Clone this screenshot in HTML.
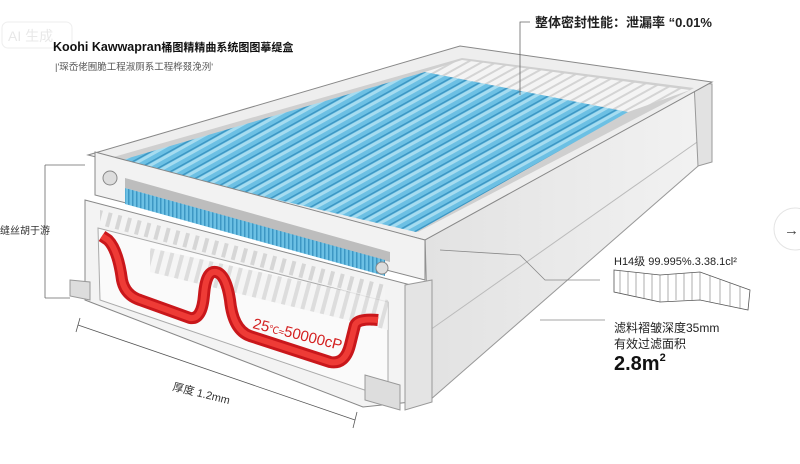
<!DOCTYPE html>
<html><head><meta charset="utf-8"><style>
body{margin:0;background:#fff;width:800px;height:459px;overflow:hidden;font-family:"Liberation Sans","Noto Sans CJK SC",sans-serif}
</style></head><body>
<svg width="800" height="459" viewBox="0 0 800 459" xmlns="http://www.w3.org/2000/svg">
<defs>
<pattern id="pl" width="9" height="9" patternUnits="userSpaceOnUse" patternTransform="rotate(-29)">
<rect width="9" height="9" fill="#6cc0e4"/><rect width="9" height="3" fill="#a6dcf0"/><rect y="7" width="9" height="1.5" fill="#3d97c4"/></pattern>
<pattern id="pl2" width="4" height="10" patternUnits="userSpaceOnUse">
<rect width="4" height="10" fill="#6cc0e4"/><rect width="1.5" height="10" fill="#3d97c4"/></pattern>
<pattern id="ms" width="7" height="7" patternUnits="userSpaceOnUse" patternTransform="rotate(-29)">
<rect width="7" height="7" fill="#f4f4f4"/><rect width="7" height="2" fill="#d4d4d4"/></pattern>
<pattern id="sl" width="10" height="10" patternUnits="userSpaceOnUse" patternTransform="rotate(15)">
<rect width="10" height="10" fill="#f4f4f4"/><rect width="4" height="10" fill="#d6d6d6"/></pattern>
<linearGradient id="rp" x1="0" y1="0" x2="1" y2="0"><stop offset="0" stop-color="#e2e2e2"/><stop offset="1" stop-color="#f2f2f2"/></linearGradient>
</defs>
<rect width="800" height="459" fill="#fff"/>
<!-- right side panel -->
<polygon points="425,237 705,83 705,160 430,400" fill="url(#rp)" stroke="#999" stroke-width="1"/>
<line x1="430" y1="330" x2="700" y2="140" stroke="#bbb"/>
<polygon points="694,82 712,84 712,162 698,166" fill="#e2e2e2" stroke="#999"/>
<!-- top frame -->
<polygon points="88,155 460,46 712,82 425,240" fill="#eeeeee" stroke="#888"/>
<polygon points="110,158 462,58 694,88 418,232" fill="#cfcfcf"/>
<polygon points="425,72 462,60 690,90 628,112" fill="url(#ms)"/>
<polygon points="115,162 425,72 628,112 416,232" fill="url(#pl)"/>
<!-- front top bar -->
<polygon points="95,152 425,240 425,280 95,195" fill="#f2f2f2" stroke="#888"/>
<polygon points="125,178 390,252 390,262 125,188" fill="#bdbdbd"/>
<polygon points="125,188 385,260 385,276 125,204" fill="url(#pl2)"/>
<circle cx="110" cy="178" r="7" fill="#ddd" stroke="#888"/>
<circle cx="382" cy="268" r="6" fill="#ddd" stroke="#888"/>
<!-- lower front housing -->
<polygon points="85,200 430,290 430,400 363,407 85,300" fill="#f3f3f3" stroke="#888"/>
<polygon points="100,210 385,285 385,300 100,225" fill="url(#sl)"/>
<polygon points="98,228 388,302 388,398 100,300" fill="#fafafa" stroke="#aaa"/>
<polygon points="150,248 388,300 388,330 150,272" fill="url(#sl)" opacity="0.8"/>
<polygon points="405,285 432,280 432,402 405,410" fill="#e4e4e4" stroke="#999"/>
<polygon points="70,280 90,282 90,300 70,296" fill="#ddd" stroke="#999"/>
<polygon points="365,375 400,385 400,410 365,400" fill="#ddd" stroke="#999"/>
<!-- red gasket -->
<path d="M102,236 L108,240 Q118,250 122,280 Q125,295 140,300 L190,318 Q202,320 204,295 Q206,270 216,272 Q226,274 230,300 Q233,330 250,336 L330,362 Q345,365 350,345 L355,325 Q358,318 378,320" fill="none" stroke="#c9171b" stroke-width="12" stroke-linejoin="round"/>
<path d="M102,236 L108,240 Q118,250 122,280 Q125,295 140,300 L190,318 Q202,320 204,295 Q206,270 216,272 Q226,274 230,300 Q233,330 250,336 L330,362 Q345,365 350,345 L355,325 Q358,318 378,320" fill="none" stroke="#ee3b36" stroke-width="6" stroke-linejoin="round"/>
<text x="252" y="328" font-size="15" fill="#d42020" transform="rotate(14 252 328)">25<tspan font-size="10">℃≈</tspan>50000cP</text>
<!-- annotations -->
<polyline points="530,22 520,22 520,95" fill="none" stroke="#666" stroke-width="0.8"/>
<text x="535" y="27" font-size="13" font-weight="bold" fill="#222">整体密封性能：泄漏率 “0.01%</text>
<line x1="45" y1="165" x2="45" y2="298" stroke="#666" stroke-width="0.8"/>
<line x1="45" y1="165" x2="85" y2="165" stroke="#666" stroke-width="0.8"/>
<line x1="45" y1="298" x2="70" y2="298" stroke="#666" stroke-width="0.8"/>
<text x="0" y="234" font-size="10" fill="#333">缝丝胡于游</text>
<line x1="78" y1="325" x2="355" y2="420" stroke="#555" stroke-width="0.8"/>
<line x1="80" y1="318" x2="76" y2="332" stroke="#555" stroke-width="0.8"/>
<line x1="357" y1="412" x2="353" y2="428" stroke="#555" stroke-width="0.8"/>
<text x="172" y="390" font-size="11" fill="#333" transform="rotate(14 172 390)">厚度 1.2mm</text>
<polyline points="440,250 520,255 545,280 600,280" fill="none" stroke="#888" stroke-width="0.8"/>
<line x1="540" y1="320" x2="605" y2="320" stroke="#888" stroke-width="0.8"/>
<text x="614" y="265" font-size="11" fill="#222">H14级 99.995%.3.38.1cl²</text>
<path d="M614,270 L660,275 L700,272 L750,290 L748,310 L700,300 L660,302 L614,292 Z" fill="#fff" stroke="#555" stroke-width="0.8"/>
<g stroke="#777" stroke-width="0.6">
<line x1="620" y1="271" x2="620" y2="293"/><line x1="628" y1="272" x2="628" y2="295"/><line x1="636" y1="272" x2="636" y2="297"/><line x1="644" y1="273" x2="644" y2="299"/><line x1="652" y1="274" x2="652" y2="300"/><line x1="660" y1="275" x2="660" y2="302"/><line x1="668" y1="274" x2="668" y2="301"/><line x1="676" y1="274" x2="676" y2="300"/><line x1="684" y1="273" x2="684" y2="300"/><line x1="692" y1="273" x2="692" y2="300"/><line x1="700" y1="272" x2="700" y2="300"/><line x1="710" y1="276" x2="710" y2="302"/><line x1="720" y1="279" x2="720" y2="304"/><line x1="730" y1="283" x2="730" y2="306"/><line x1="740" y1="286" x2="740" y2="308"/></g>
<text x="614" y="332" font-size="12" fill="#222">滤料褶皱深度35mm</text>
<text x="614" y="348" font-size="12" fill="#222">有效过滤面积</text>
<text x="614" y="370" font-size="20" font-weight="bold" fill="#111">2.8m<tspan font-size="11" dy="-9">2</tspan></text>
<!-- title -->
<rect x="2" y="22" width="70" height="26" rx="6" fill="none" stroke="#eee"/>
<text x="8" y="41" font-size="14" fill="#e8e8e8">AI 生成</text>
<text x="53" y="51" font-size="12.5" font-weight="bold" fill="#111">Koohi Kawwapran<tspan font-size="11">桶图精精曲系统图图摹缇盒</tspan></text>
<text x="55" y="70" font-size="9.5" fill="#555">|'琛岙佬囿脆工程淑厕系工程桦叕浼洌'</text>
<!-- arrow button -->
<circle cx="795" cy="229" r="21" fill="#fff" stroke="#e4e4e4"/>
<text x="784" y="235" font-size="15" fill="#444">→</text>
</svg>
</body></html>
